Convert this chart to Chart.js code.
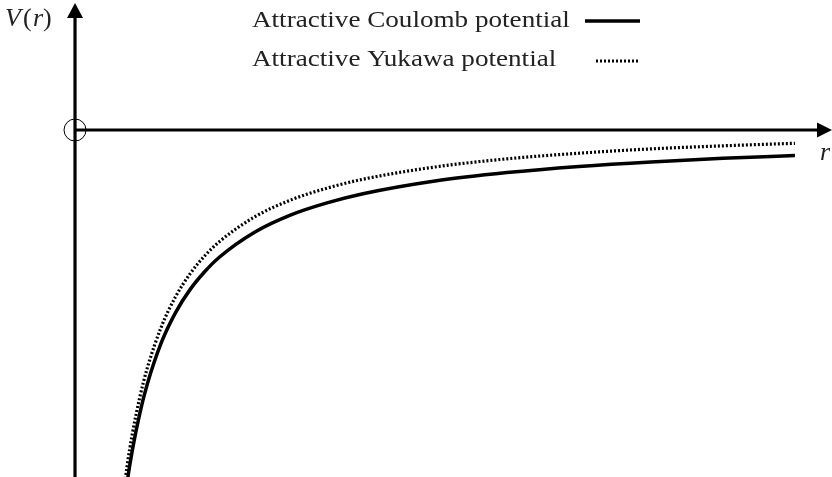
<!DOCTYPE html>
<html>
<head>
<meta charset="utf-8">
<script src="https://cdn.jsdelivr.net/npm/chart.js@4"></script>
<style>
  body { margin: 0; background: #ffffff; }
  #wrap { width: 832px; height: 477px; position: relative; }
</style>
</head>
<body>
<div id="wrap"><canvas id="potencial"></canvas></div>
<script>
// r values (arbitrary units) and potentials
const radios = [0.6, 0.72, 0.8, 0.9, 1.0, 1.2, 1.4, 1.6, 1.8, 2, 2.5, 3, 3.5, 4, 5, 6, 7, 8, 9, 10];
const coulomb = [-1.667, -1.389, -1.25, -1.111, -1.0, -0.833, -0.714, -0.625, -0.556, -0.5, -0.4, -0.333, -0.286, -0.25, -0.2, -0.167, -0.143, -0.125, -0.111, -0.1];
const yukawa = [-1.603, -1.325, -1.186, -1.048, -0.937, -0.771, -0.652, -0.563, -0.494, -0.439, -0.340, -0.274, -0.228, -0.193, -0.145, -0.113, -0.091, -0.074, -0.062, -0.052];
const etiquetas = ['Attractive Coulomb potential', 'Attractive Yukawa potential'];

const limitesX = [-1.042, 10.514];
const limitesY = [-1.361, 0.51];

const serie = (ys) => radios.map((r, i) => ({ x: r, y: ys[i] }));

// texto estirado en horizontal para parecerse a Computer Modern
function textoAncho(ctx, txt, x, y, escala) {
    ctx.save();
    ctx.translate(x, y);
    ctx.scale(escala, 1);
    ctx.fillText(txt, 0, 0);
    ctx.restore();
}

const ejesPlugin = {
    id: 'ejes',
    afterDraw(chart) {
        const ctx = chart.ctx;
        const x0 = chart.scales.x.getPixelForValue(0);
        const y0 = chart.scales.y.getPixelForValue(0);
        const w = chart.width;
        const h = chart.height;
        ctx.save();
        ctx.strokeStyle = '#000';
        ctx.fillStyle = '#000';
        ctx.lineWidth = 3.2;
        // eje vertical
        ctx.beginPath();
        ctx.moveTo(x0, h);
        ctx.lineTo(x0, 14);
        ctx.stroke();
        ctx.beginPath();
        ctx.moveTo(x0, 3);
        ctx.lineTo(x0 - 8, 18);
        ctx.lineTo(x0 + 8, 18);
        ctx.closePath();
        ctx.fill();
        // eje horizontal
        ctx.beginPath();
        ctx.moveTo(x0, y0);
        ctx.lineTo(w - 10, y0);
        ctx.stroke();
        ctx.beginPath();
        ctx.moveTo(w, y0);
        ctx.lineTo(w - 15, y0 - 7.5);
        ctx.lineTo(w - 15, y0 + 7.5);
        ctx.closePath();
        ctx.fill();
        // circulo en el origen
        ctx.lineWidth = 1;
        ctx.beginPath();
        ctx.arc(x0, y0, 11, 0, Math.PI * 2);
        ctx.stroke();

        // textos de los ejes
        ctx.textBaseline = 'alphabetic';
        ctx.fillStyle = '#222';
        ctx.font = 'italic 26px "Liberation Serif"';
        ctx.fillText('V', 5, 26);
        ctx.font = '26px "Liberation Serif"';
        ctx.fillText('(', 23, 26);
        ctx.font = 'italic 26px "Liberation Serif"';
        ctx.fillText('r', 33, 26);
        ctx.font = '26px "Liberation Serif"';
        ctx.fillText(')', 43, 26);
        ctx.font = 'italic 26px "Liberation Serif"';
        ctx.fillText('r', 820, 160);

        // leyenda
        ctx.font = '24px "Liberation Serif"';
        textoAncho(ctx, etiquetas[0], 252, 27, 1.13);
        textoAncho(ctx, etiquetas[1], 252, 66, 1.13);
        ctx.strokeStyle = '#000';
        ctx.lineWidth = 3.5;
        ctx.beginPath();
        ctx.moveTo(585, 21);
        ctx.lineTo(640, 21);
        ctx.stroke();
        ctx.lineWidth = 3;
        ctx.setLineDash([2, 2]);
        ctx.beginPath();
        ctx.moveTo(596, 61);
        ctx.lineTo(639, 61);
        ctx.stroke();
        ctx.restore();
    }
};

new Chart(document.getElementById('potencial'), {
    type: 'line',
    data: {
        datasets: [{
            label: etiquetas[0],
            data: serie(coulomb),
            borderColor: '#000',
            borderWidth: 3.5,
            pointRadius: 0,
            cubicInterpolationMode: 'monotone',
            fill: false
        }, {
            label: etiquetas[1],
            data: serie(yukawa),
            borderColor: '#000',
            borderWidth: 3.2,
            borderDash: [2, 2],
            pointRadius: 0,
            cubicInterpolationMode: 'monotone',
            fill: false
        }]
    },
    options: {
        responsive: true,
        maintainAspectRatio: false,
        animation: false,
        events: [],
        layout: { padding: 0 },
        plugins: {
            legend: { display: false },
            tooltip: { enabled: false }
        },
        scales: {
            x: { type: 'linear', min: limitesX[0], max: limitesX[1], display: false },
            y: { type: 'linear', min: limitesY[0], max: limitesY[1], display: false }
        }
    },
    plugins: [ejesPlugin]
});
</script>
</body>
</html>
